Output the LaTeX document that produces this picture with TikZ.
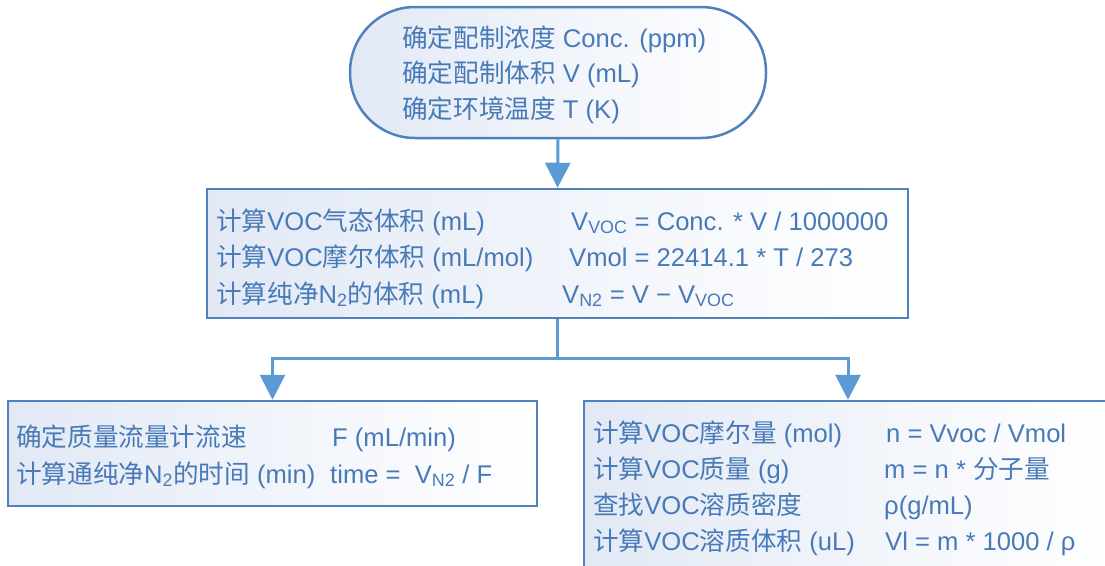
\documentclass[tikz,border=0pt]{standalone}
\usepackage{fontspec}
\setmainfont{Liberation Sans}
\newfontfamily\cjk{Noto Sans CJK SC}
\usetikzlibrary{arrows.meta}
\definecolor{ramka}{RGB}{79,129,189}
\definecolor{strelka}{RGB}{91,155,213}
\definecolor{tekst}{RGB}{72,122,184}
\definecolor{zalivka}{RGB}{226,233,245}
\newcommand{\zh}[1]{{\cjk #1}}

\begin{document}
\begin{tikzpicture}[x=1pt,y=-1pt,
		box/.style={draw=ramka, line width=2.5pt, left color=zalivka, right color=white, inner sep=0pt},
		txt/.style={anchor=base west, inner sep=0pt, text=tekst, font=\fontsize{25.6}{30}\selectfont},
		line/.style={draw=strelka, line width=3pt},
		arr/.style={line, -{Triangle[width=25pt,length=25pt]}}]
		\clip (0,0) rectangle (1105,565);

		% Рамки
		\node[box, rounded corners=65pt, minimum width=416pt, minimum height=131pt] (konc) at (558,72.5) {};
		\node[box, minimum width=701pt, minimum height=129pt] (obem) at (557.5,253.5) {};
		\node[box, minimum width=529pt, minimum height=105pt] (azot) at (272.5,453.5) {};
		\node[box, minimum width=528pt, minimum height=174pt] (rastvor) at (848,488) {};

		% Стрелки
		\draw[arr] (konc.south) -- (obem.north);
		\draw[line] (obem.south) -- ++(0,39) coordinate (razv);
		\draw[arr] (razv) -| (azot.north);
		\draw[arr] (razv) -| (rastvor.north);

		% Исходные данные
		\node[txt] (k1) at (402,47) {\zh{确定配制浓度} Conc. (ppm)};
		\node[txt] (k2) at (402,82.5) {\zh{确定配制体积} V (mL)};
		\node[txt] (k3) at (402,118) {\zh{确定环境温度} T (K)};

		% Объемы
		\node[txt] (o1) at (216,230) {\zh{计算}VOC\zh{气态体积} (mL)};
		\node[txt] (o2) at (216,266) {\zh{计算}VOC\zh{摩尔体积} (mL/mol)};
		\node[txt] (o3) at (216,303) {\zh{计算纯净}N\textsubscript{2}\zh{的体积} (mL)};
		\node[txt] (f1) at (571,230) {V\textsubscript{VOC} = Conc. * V / 1000000};
		\node[txt] (f2) at (569,266) {Vmol = 22414.1 * T / 273};
		\node[txt] (f3) at (562,303) {V\textsubscript{N2} = V − V\textsubscript{VOC}};

		% Слева: азот
		\node[txt] (a1) at (16,446) {\zh{确定质量流量计流速}};
		\node[txt] (a2) at (16,483) {\zh{计算通纯净}N\textsubscript{2}\zh{的时间} (min)};
		\node[txt] (g1) at (332,446) {F (mL/min)};
		\node[txt] (g2) at (330,483) {time = \ V\textsubscript{N2} / F};

		% Справа: раствор
		\node[txt] (r1) at (593,442) {\zh{计算}VOC\zh{摩尔量} (mol)};
		\node[txt] (r2) at (593,478) {\zh{计算}VOC\zh{质量} (g)};
		\node[txt] (r3) at (593,514) {\zh{查找}VOC\zh{溶质密度}};
		\node[txt] (r4) at (593,550) {\zh{计算}VOC\zh{溶质体积} (uL)};
		\node[txt] (p1) at (886,442) {n = Vvoc / Vmol};
		\node[txt] (p2) at (884,478) {m = n * \zh{分子量}};
		\node[txt] (p3) at (884,514) {ρ(g/mL)};
		\node[txt] (p4) at (885,550) {Vl = m * 1000 / ρ};
	\end{tikzpicture}
\end{document}
